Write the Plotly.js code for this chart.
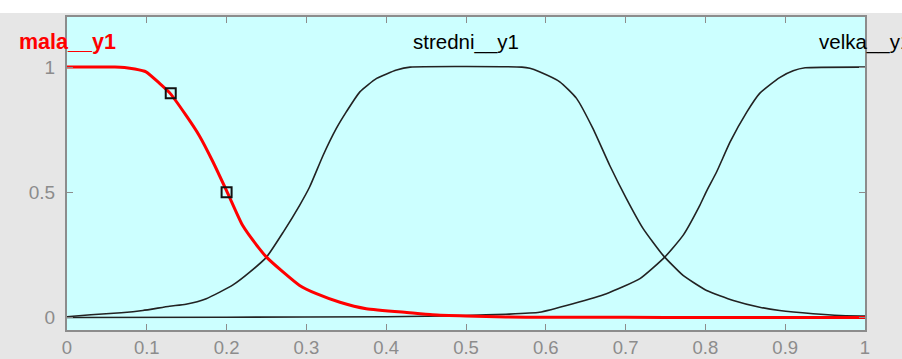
<!DOCTYPE html>
<html>
<head>
<meta charset="utf-8">
<script src="https://cdn.plot.ly/plotly-3.0.1.min.js"></script>
<style>html,body{margin:0;padding:0;background:#e6e6e6;}#chart{width:902px;height:359px;}</style>
</head>
<body>
<div id="chart"></div>
<script>
// Membership function names
const mfNames = ["mala__y1", "stredni__y1", "velka__y1"];
const labelX = [0, 0.5, 1];
const labelY = 1.1;

// mala__y1 (selected, red)
const malaX = [0, 0.03, 0.06, 0.072, 0.085, 0.099, 0.116, 0.129, 0.149, 0.166, 0.183, 0.2016, 0.220, 0.241, 0.250, 0.271, 0.2915, 0.3125, 0.342, 0.375, 0.429, 0.458, 0.5, 0.55, 0.6, 0.7, 0.8, 0.9, 1.0];
const malaY = [1, 1, 1, 0.998, 0.992, 0.981, 0.935, 0.896, 0.808, 0.725, 0.621, 0.495, 0.368, 0.275, 0.241, 0.181, 0.128, 0.095, 0.061, 0.035, 0.019, 0.011, 0.006, 0.002, 0.001, 0.0005, 0.0003, 0.0002, 0.0001];

// stredni__y1
const stredniX = [0, 0.03, 0.068, 0.095, 0.1285, 0.149, 0.1745, 0.208, 0.229, 0.250, 0.271, 0.2915, 0.304, 0.321, 0.3375, 0.350, 0.367, 0.388, 0.413, 0.43, 0.57, 0.58, 0.592, 0.6175, 0.6385, 0.659, 0.680, 0.701, 0.722, 0.747, 0.772, 0.8015, 0.835, 0.868, 0.893, 0.935, 0.969, 1.0];
const stredniY = [0.003, 0.011, 0.019, 0.028, 0.045, 0.053, 0.075, 0.13, 0.181, 0.241, 0.341, 0.448, 0.521, 0.648, 0.755, 0.821, 0.901, 0.955, 0.988, 1, 1, 0.995, 0.981, 0.941, 0.875, 0.755, 0.608, 0.475, 0.355, 0.248, 0.168, 0.108, 0.068, 0.041, 0.028, 0.015, 0.008, 0.006];

// velka__y1
const velkaX = [0, 0.2, 0.4, 0.45, 0.5, 0.55, 0.592, 0.634, 0.676, 0.718, 0.749, 0.772, 0.793, 0.8015, 0.814, 0.831, 0.852, 0.868, 0.893, 0.91, 0.925, 1.0];
const velkaY = [0, 0.001, 0.003, 0.005, 0.008, 0.013, 0.021, 0.055, 0.095, 0.155, 0.241, 0.328, 0.448, 0.505, 0.581, 0.701, 0.821, 0.895, 0.958, 0.985, 0.997, 1];

// selected points (squares)
const pointX = [0.13, 0.2];
const pointY = [0.895, 0.5];

// ticks
const xTickVals = [0, 0.1, 0.2, 0.3, 0.4, 0.5, 0.6, 0.7, 0.8, 0.9, 1];
const xTickText = ["0", "0.1", "0.2", "0.3", "0.4", "0.5", "0.6", "0.7", "0.8", "0.9", "1"];
const yTickVals = [0, 0.5, 1];
const yTickText = ["0", "0.5", "1"];

const axisGray = "#8c8c8c";
const fontFam = "Liberation Sans, Arial, Helvetica, sans-serif";
const smooth = {shape: "spline", smoothing: 0.5};

const traces = [
  {x: stredniX, y: stredniY, mode: "lines", line: Object.assign({color: "#222222", width: 1.6}, smooth)},
  {x: velkaX, y: velkaY, mode: "lines", line: Object.assign({color: "#222222", width: 1.6}, smooth)},
  {x: malaX, y: malaY, mode: "lines", line: Object.assign({color: "#ff0000", width: 3}, smooth)},
  {x: pointX, y: pointY, mode: "markers", marker: {symbol: "square-open", size: 10, color: "#111111", line: {width: 2}}}
];

const annColors = ["#ff0000", "#000000", "#000000"];
const annWeights = ["bold", "normal", "normal"];
const annSizes = [21.5, 20.5, 20.5];
const annotations = mfNames.map((t, i) => ({
  x: labelX[i], y: labelY, xref: "x", yref: "y", text: t, showarrow: false,
  xanchor: "center", yanchor: "middle",
  font: {family: fontFam, size: annSizes[i], color: annColors[i], weight: annWeights[i]}
}));

const layout = {
  width: 902, height: 359,
  margin: {l: 67, r: 37, t: 17, b: 29, pad: 0},
  paper_bgcolor: "#e6e6e6",
  plot_bgcolor: "#ccffff",
  showlegend: false,
  hovermode: false,
  xaxis: {
    range: [0, 1], tickmode: "array", tickvals: xTickVals, ticktext: xTickText,
    ticks: "inside", ticklen: 6, tickwidth: 1, tickcolor: axisGray,
    showline: true, linecolor: axisGray, linewidth: 2, mirror: "ticks",
    showgrid: false, zeroline: false, ticklabelstandoff: 0,
    tickfont: {family: fontFam, size: 18.5, color: axisGray}
  },
  yaxis: {
    range: [-0.05, 1.2], tickmode: "array", tickvals: yTickVals, ticktext: yTickText,
    ticks: "inside", ticklen: 6, tickwidth: 1, tickcolor: axisGray,
    showline: true, linecolor: axisGray, linewidth: 2, mirror: "ticks",
    showgrid: false, zeroline: false, ticklabelstandoff: 6,
    tickfont: {family: fontFam, size: 19, color: axisGray}
  },
  shapes: [{
    type: "rect", xref: "paper", yref: "paper", x0: -0.2, x1: 1.2, y0: 1.0128, y1: 1.2,
    fillcolor: "#ffffff", line: {width: 0}, layer: "below"
  }],
  annotations: annotations
};

Plotly.newPlot("chart", traces, layout, {staticPlot: true, displayModeBar: false});
</script>
</body>
</html>
